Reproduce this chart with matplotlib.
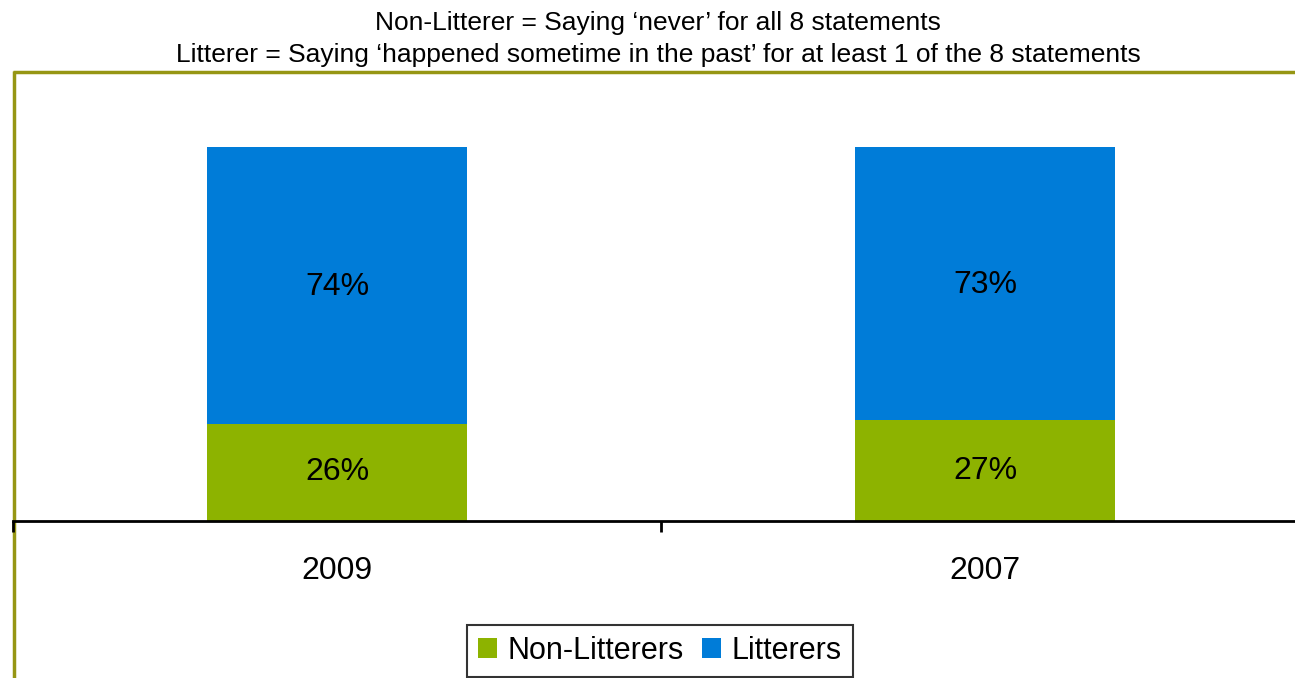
import matplotlib.pyplot as plt
from matplotlib.lines import Line2D

# data
years = ["2009", "2007"]
non_litterers = [26, 27]
litterers = [74, 73]
labels = ["Non-Litterers", "Litterers"]
colors = ["#8db300", "#007cd8"]

title = ("Non-Litterer = Saying \u2018never\u2019 for all 8 statements\n"
         "Litterer = Saying \u2018happened sometime in the past\u2019 for at least 1 of the 8 statements")

plt.rcParams['font.family'] = ['Liberation Sans', 'DejaVu Sans']

W, H = 1295, 678
fig = plt.figure(figsize=(W / 100, H / 100), dpi=100)

# axes: x 13..1309 px, y 147..521 px (100% at top)
ax = fig.add_axes([13 / W, 1 - 521 / H, 1296 / W, 374 / H])
ax.patch.set_visible(False)
x = list(range(len(years)))
b1 = ax.bar(x, non_litterers, width=0.4, color=colors[0], label=labels[0])
b2 = ax.bar(x, litterers, width=0.4, bottom=non_litterers, color=colors[1], label=labels[1])

for i in x:
    ax.text(i, non_litterers[i] / 2, f"{non_litterers[i]}%", ha='center', va='center', fontsize=23)
    ax.text(i, non_litterers[i] + litterers[i] / 2 - 0.5, f"{litterers[i]}%", ha='center', va='center', fontsize=23)

ax.set_xlim(-0.5, 1.5)
ax.set_ylim(0, 100)
ax.set_yticks([])
for s in ['top', 'right', 'left']:
    ax.spines[s].set_visible(False)
ax.spines['bottom'].set_linewidth(2)
ax.set_xticks(x)
ax.set_xticklabels(years, fontsize=23)
ax.tick_params(axis='x', which='major', length=0, pad=25)
ax.set_xticks([-0.5, 0.5, 1.5], minor=True)
ax.tick_params(axis='x', which='minor', length=8, width=2, direction='out')

# olive chart-area frame
olive = '#969614'
fig.add_artist(Line2D([13 / W, 1], [1 - 71.5 / H] * 2, color=olive, lw=2.5,
                      solid_capstyle='butt', transform=fig.transFigure, zorder=0))
fig.add_artist(Line2D([13.5 / W] * 2, [0, 1 - 70.5 / H], color=olive, lw=2.5,
                      solid_capstyle='butt', transform=fig.transFigure, zorder=0))

fig.text(658 / W, 1 - 39 / H, title, ha='center', va='center', fontsize=19, linespacing=1.37)

leg = fig.legend(handles=[b1, b2], loc='center', bbox_to_anchor=(660 / W, 1 - 651 / H),
                 ncol=2, fontsize=22, frameon=True, fancybox=False, handlelength=0.62,
                 handleheight=0.62, handletextpad=0.35, columnspacing=0.6, borderpad=0.35)
leg.get_frame().set_edgecolor('black')
leg.get_frame().set_linewidth(1.5)

fig.savefig("out.png", dpi=100)
